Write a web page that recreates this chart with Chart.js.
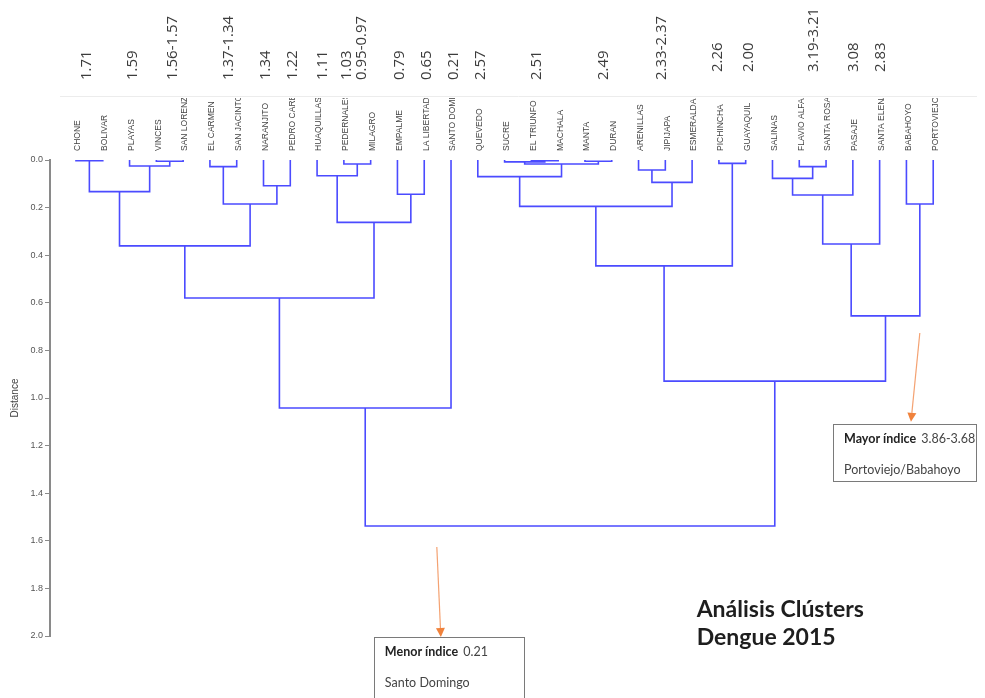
<!DOCTYPE html>
<html>
<head>
<meta charset="utf-8">
<script src="https://cdn.jsdelivr.net/npm/chart.js@4.4.1/dist/chart.umd.min.js"></script>
<style>
  html, body { margin: 0; padding: 0; background: #fff; }
  #wrap { position: relative; width: 985px; height: 698px; }
</style>
</head>
<body>
<div id="wrap"><canvas id="c" width="985" height="698"></canvas></div>
<script>
// Cantons in dendrogram leaf order
const leaves = [
  'CHONE', 'BOLIVAR', 'PLAYAS', 'VINCES', 'SAN LORENZO', 'EL CARMEN', 'SAN JACINTO',
  'NARANJITO', 'PEDRO CARBO', 'HUAQUILLAS', 'PEDERNALES', 'MILAGRO', 'EMPALME',
  'LA LIBERTAD', 'SANTO DOMINGO', 'QUEVEDO', 'SUCRE', 'EL TRIUNFO', 'MACHALA', 'MANTA',
  'DURAN', 'ARENILLAS', 'JIPIJAPA', 'ESMERALDAS', 'PICHINCHA', 'GUAYAQUIL', 'SALINAS',
  'FLAVIO ALFARO', 'SANTA ROSA', 'PASAJE', 'SANTA ELENA', 'BABAHOYO', 'PORTOVIEJO'
];

// Agglomeration steps: [member A, member B, distance].
// Strings are cantons, numbers refer to an earlier step (1-based).
const merges = [
  ['VINCES', 'SAN LORENZO', 0.005],      // 1
  ['PLAYAS', 1, 0.025],                  // 2
  ['CHONE', 'BOLIVAR', 0.003],           // 3
  [3, 2, 0.133],                         // 4
  ['EL CARMEN', 'SAN JACINTO', 0.028],   // 5
  ['NARANJITO', 'PEDRO CARBO', 0.108],   // 6
  [5, 6, 0.185],                         // 7
  [4, 7, 0.361],                         // 8
  ['PEDERNALES', 'MILAGRO', 0.017],      // 9
  ['HUAQUILLAS', 9, 0.066],              // 10
  ['EMPALME', 'LA LIBERTAD', 0.144],     // 11
  [10, 11, 0.262],                       // 12
  [8, 12, 0.58],                         // 13
  [13, 'SANTO DOMINGO', 1.042],          // 14
  ['EL TRIUNFO', 'MACHALA', 0.003],      // 15
  ['SUCRE', 15, 0.008],                  // 16
  ['MANTA', 'DURAN', 0.005],             // 17
  [16, 17, 0.017],                       // 18
  ['QUEVEDO', 18, 0.07],                 // 19
  ['ARENILLAS', 'JIPIJAPA', 0.042],      // 20
  [20, 'ESMERALDAS', 0.094],             // 21
  [19, 21, 0.195],                       // 22
  ['PICHINCHA', 'GUAYAQUIL', 0.014],     // 23
  [22, 23, 0.445],                       // 24
  ['FLAVIO ALFARO', 'SANTA ROSA', 0.028],// 25
  ['SALINAS', 25, 0.077],                // 26
  [26, 'PASAJE', 0.147],                 // 27
  [27, 'SANTA ELENA', 0.353],            // 28
  ['BABAHOYO', 'PORTOVIEJO', 0.185],     // 29
  [28, 29, 0.655],                       // 30
  [24, 30, 0.929],                       // 31
  [14, 31, 1.538]                        // 32
];

// Dengue index written above the leaves, and the leaf slot each one sits over
const indexTexts = [
  '1.71', '1.59', '1.56-1.57', '1.37-1.34', '1.34', '1.22', '1.11', '1.03', '0.95-0.97',
  '0.79', '0.65', '0.21', '2.57', '2.51', '2.49', '2.33-2.37', '2.26', '2.00',
  '3.19-3.21', '3.08', '2.83'
];
const indexSlots = [
  0.4, 2.1, 3.6, 5.7, 7.1, 8.1, 9.2, 10.1, 10.65,
  12.1, 13.1, 14.1, 15.1, 17.2, 19.7, 21.85, 23.95, 25.1,
  27.55, 29.05, 30.05
];

// Distance axis tick labels
const distanceTicks = ['0.0', '0.2', '0.4', '0.6', '0.8', '1.0', '1.2', '1.4', '1.6', '1.8', '2.0'];

// ---- build the dendrogram links ----
const nodeX = [];
const nodeH = [];
function member(ref) {
  if (typeof ref === 'string') return { x: leaves.indexOf(ref), h: 0 };
  return { x: nodeX[ref - 1], h: nodeH[ref - 1] };
}
const LINK_COLOR = '#4b4bff';
const datasets = merges.map(([a, b, d]) => {
  const A = member(a), B = member(b);
  nodeX.push((A.x + B.x) / 2);
  nodeH.push(d);
  return {
    data: [{ x: A.x, y: A.h }, { x: A.x, y: d }, { x: B.x, y: d }, { x: B.x, y: B.h }],
    showLine: true,
    borderColor: LINK_COLOR,
    borderWidth: 1.6,
    pointRadius: 0,
    fill: false,
    tension: 0
  };
});

// ---- text, callouts and title drawn over the chart ----
const overlay = {
  id: 'overlay',
  afterDraw(chart) {
    const { ctx, scales: { x, y } } = chart;
    const P = (xv, yv) => [x.getPixelForValue(xv), y.getPixelForValue(yv)];

    // faint strip rule above the leaf names
    ctx.save();
    ctx.strokeStyle = '#ececec';
    ctx.lineWidth = 1;
    ctx.beginPath();
    ctx.moveTo(60, 96.5);
    ctx.lineTo(977, 96.5);
    ctx.stroke();
    ctx.restore();

    // leaf names (clipped to the label strip)
    ctx.save();
    ctx.beginPath();
    ctx.rect(0, 98, chart.width, 58);
    ctx.clip();
    ctx.font = '8.5px "Liberation Sans", Arial, sans-serif';
    ctx.fillStyle = '#444';
    ctx.textAlign = 'left';
    ctx.textBaseline = 'middle';
    leaves.forEach((name, i) => {
      ctx.save();
      ctx.translate(x.getPixelForValue(i) + 2, 151);
      ctx.rotate(-Math.PI / 2);
      ctx.fillText(name, 0, 0);
      ctx.restore();
    });
    ctx.restore();

    // dengue index values
    ctx.save();
    ctx.font = '15px "Open Sans", sans-serif';
    ctx.fillStyle = '#3c3c3c';
    ctx.textAlign = 'left';
    ctx.textBaseline = 'middle';
    indexTexts.forEach((t, i) => {
      const slot = indexSlots[i];
      const bottom = slot > 23.5 ? 72 : 80;
      ctx.save();
      ctx.translate(x.getPixelForValue(slot), bottom);
      ctx.rotate(-Math.PI / 2);
      ctx.fillText(t, 0, 0);
      ctx.restore();
    });
    ctx.restore();

    // callout arrows
    function arrow(from, to) {
      const [x0, y0] = P(from[0], from[1]);
      const [x1, y1] = P(to[0], to[1]);
      const ang = Math.atan2(y1 - y0, x1 - x0);
      const len = 9, half = 4.5;
      const bx = x1 - len * Math.cos(ang), by = y1 - len * Math.sin(ang);
      ctx.save();
      ctx.strokeStyle = '#f4a272';
      ctx.lineWidth = 1.2;
      ctx.beginPath();
      ctx.moveTo(x0, y0);
      ctx.lineTo(bx, by);
      ctx.stroke();
      ctx.fillStyle = '#f0823c';
      ctx.beginPath();
      ctx.moveTo(x1, y1);
      ctx.lineTo(bx + half * Math.sin(ang), by - half * Math.cos(ang));
      ctx.lineTo(bx - half * Math.sin(ang), by + half * Math.cos(ang));
      ctx.closePath();
      ctx.fill();
      ctx.restore();
    }
    arrow([13.47, 1.626], [13.62, 2.004]);
    arrow([31.5, 0.727], [31.17, 1.1]);

    // callout boxes
    function box(tl, br, boldText, valueText, line2) {
      const [x0, y0] = P(tl[0], tl[1]);
      const [x1, y1] = P(br[0], br[1]);
      ctx.save();
      ctx.fillStyle = '#fff';
      ctx.fillRect(x0, y0, x1 - x0, y1 - y0);
      ctx.strokeStyle = '#7a7a7a';
      ctx.lineWidth = 1;
      ctx.strokeRect(Math.round(x0) + 0.5, Math.round(y0) + 0.5, Math.round(x1 - x0), Math.round(y1 - y0));
      ctx.textAlign = 'left';
      ctx.textBaseline = 'middle';
      ctx.fillStyle = '#222';
      ctx.font = 'bold 12.5px Lato, sans-serif';
      ctx.fillText(boldText, x0 + 11, y0 + 15);
      const w = ctx.measureText(boldText).width;
      ctx.font = '12.5px Lato, sans-serif';
      ctx.fillStyle = '#444';
      ctx.fillText(valueText, x0 + 11 + w + 5, y0 + 15);
      ctx.fillText(line2, x0 + 11, y0 + 46);
      ctx.restore();
    }
    box([11.12, 2.004], [16.72, 2.35], 'Menor índice', '0.21', 'Santo Domingo');
    box([28.26, 1.109], [33.6, 1.349], 'Mayor índice', '3.86-3.68', 'Portoviejo/Babahoyo');

    // chart title
    ctx.save();
    ctx.fillStyle = '#1e1e1e';
    ctx.font = 'bold 23px Lato, sans-serif';
    ctx.textAlign = 'left';
    ctx.textBaseline = 'middle';
    const [tx, ty] = P(23.17, 1.89);
    ctx.fillText('Análisis Clústers', tx, ty);
    ctx.fillText('Dengue 2015', tx, ty + 28);
    ctx.restore();
  }
};

new Chart(document.getElementById('c').getContext('2d'), {
  type: 'scatter',
  data: { datasets },
  options: {
    responsive: false,
    animation: false,
    events: [],
    layout: { padding: { top: 160, bottom: 62, left: 0, right: 25 } },
    plugins: { legend: { display: false }, tooltip: { enabled: false } },
    scales: {
      x: { type: 'linear', min: -0.97, max: 33, display: false },
      y: {
        type: 'linear',
        reverse: true,
        min: 0,
        max: 2,
        afterFit(scale) { scale.width = 50; },
        ticks: {
          stepSize: 0.2,
          padding: 2,
          color: '#555',
          font: { size: 9, family: '"Liberation Sans", Arial, sans-serif' },
          callback: (v) => distanceTicks[Math.round(v / 0.2)]
        },
        grid: { drawOnChartArea: false, tickLength: 5, color: '#8a8a8a', lineWidth: 1 },
        border: { color: '#8a8a8a', width: 2 },
        title: {
          display: true,
          text: 'Distance',
          color: '#444',
          font: { size: 10, family: '"Liberation Sans", Arial, sans-serif' },
          padding: { top: 9, bottom: 0 }
        }
      }
    }
  },
  plugins: [overlay]
});
</script>
</body>
</html>
